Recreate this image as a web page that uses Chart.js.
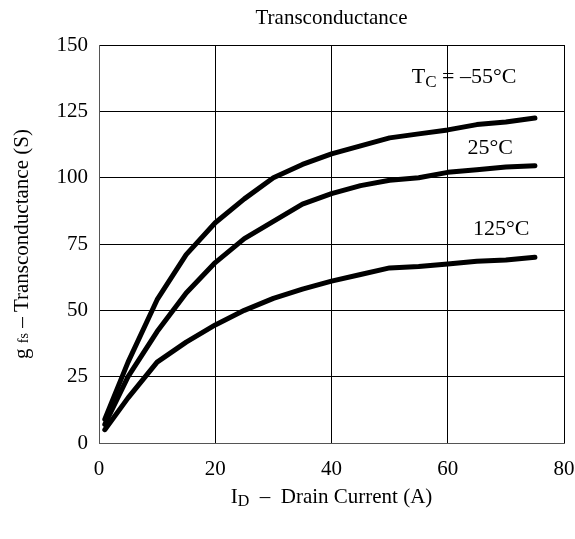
<!DOCTYPE html>
<html>
<head>
<meta charset="utf-8">
<script src="https://cdn.jsdelivr.net/npm/chart.js@4.4.1/dist/chart.umd.min.js"></script>
<style>
  html, body { margin: 0; padding: 0; background: #fff; }
  #wrap { width: 575px; height: 539px; }
</style>
</head>
<body>
<div id="wrap"><canvas id="gfsChart"></canvas></div>
<script>
// drain current (A)
var current = [1, 5, 10, 15, 20, 25, 30, 35, 40, 45, 50, 55, 60, 65, 70, 75];
// transconductance (S) per case temperature
var gfsMinus55 = [9, 30.5, 54, 71, 83, 92, 100, 105, 109, 112, 115, 116.5, 118, 120, 121, 122.5];
var gfs25 = [7, 25, 42, 56.5, 68, 77, 83.5, 90, 94, 97, 99, 100, 102, 103, 104, 104.5];
var gfs125 = [5, 17, 30.5, 38, 44.5, 50, 54.5, 58, 61, 63.5, 66, 66.5, 67.5, 68.5, 69, 70];
var xTicks = [0, 20, 40, 60, 80];
var yTicks = [0, 25, 50, 75, 100, 125, 150];
// curve labels: [main, subscript, rest, x, y] in data units
var curveLabels = [
  ['T', 'C', ' = \u201355\u00b0C', 62.8, 138],
  ['25\u00b0C', '', '', 67.3, 111],
  ['125\u00b0C', '', '', 69.2, 80.6]
];

var FONT = '"Liberation Serif", "Times New Roman", serif';

function pts(ys) {
  return current.map(function (x, i) { return { x: x, y: ys[i] }; });
}

// draw "main" + subscript + "rest" starting at x (left aligned, baseline middle)
function subText(ctx, main, sub, rest, x, y, size) {
  ctx.font = size + 'px ' + FONT;
  ctx.fillText(main, x, y);
  x += ctx.measureText(main).width;
  if (sub) {
    ctx.font = Math.round(size * 0.78) + 'px ' + FONT;
    ctx.fillText(sub, x, y + size * 0.25);
    x += ctx.measureText(sub).width;
  }
  if (rest) {
    ctx.font = size + 'px ' + FONT;
    ctx.fillText(rest, x, y);
  }
}

function subWidth(ctx, main, sub, rest, size) {
  ctx.font = size + 'px ' + FONT;
  var w = ctx.measureText(main).width + (rest ? ctx.measureText(rest).width : 0);
  if (sub) {
    ctx.font = Math.round(size * 0.78) + 'px ' + FONT;
    w += ctx.measureText(sub).width;
  }
  return w;
}

var textPlugin = {
  id: 'textPlugin',
  afterDraw: function (chart) {
    var ctx = chart.ctx;
    var area = chart.chartArea;
    var xs = chart.scales.x, ys = chart.scales.y;
    var cx = (area.left + area.right) / 2;
    ctx.save();
    ctx.fillStyle = '#000';
    ctx.textBaseline = 'middle';
    ctx.textAlign = 'left';

    // title
    ctx.font = '21px ' + FONT;
    ctx.textAlign = 'center';
    ctx.fillText('Transconductance', cx, 18);
    ctx.textAlign = 'left';

    // x axis title
    var w = subWidth(ctx, 'I', 'D', '  \u2013  Drain Current (A)', 21);
    subText(ctx, 'I', 'D', '  \u2013  Drain Current (A)', cx - w / 2, 497, 21);

    // y axis title (rotated)
    ctx.save();
    ctx.translate(22, (area.top + area.bottom) / 2);
    ctx.rotate(-Math.PI / 2);
    var sz = 21;
    var a = 'g ', b = 'fs', c = ' \u2013 Transconductance (S)';
    ctx.font = sz + 'px ' + FONT;
    var wa = ctx.measureText(a).width, wc = ctx.measureText(c).width;
    ctx.font = '14px ' + FONT;
    var wb = ctx.measureText(b).width;
    var x0 = -(wa + wb + wc) / 2;
    ctx.font = sz + 'px ' + FONT;
    ctx.fillText(a, x0, 0);
    ctx.font = '14px ' + FONT;
    ctx.fillText(b, x0 + wa, 2);
    ctx.font = sz + 'px ' + FONT;
    ctx.fillText(c, x0 + wa + wb, 0);
    ctx.restore();

    // curve labels
    curveLabels.forEach(function (l) {
      var lw = subWidth(ctx, l[0], l[1], l[2], 22);
      subText(ctx, l[0], l[1], l[2], xs.getPixelForValue(l[3]) - lw / 2, ys.getPixelForValue(l[4]), 22);
    });
    ctx.restore();
  }
};

var seriesStyle = {
  borderColor: '#000',
  borderWidth: 5,
  pointRadius: 0,
  tension: 0,
  fill: false,
  borderCapStyle: 'round',
  borderJoinStyle: 'round'
};

new Chart(document.getElementById('gfsChart'), {
  type: 'line',
  data: {
    datasets: [
      Object.assign({ label: '-55', data: pts(gfsMinus55) }, seriesStyle),
      Object.assign({ label: '25', data: pts(gfs25) }, seriesStyle),
      Object.assign({ label: '125', data: pts(gfs125) }, seriesStyle)
    ]
  },
  options: {
    responsive: true,
    maintainAspectRatio: false,
    animation: false,
    layout: { padding: { top: 45, right: 11, bottom: 0, left: 0 } },
    plugins: { legend: { display: false }, tooltip: { enabled: false } },
    scales: {
      x: {
        type: 'linear',
        min: 0, max: 80,
        afterBuildTicks: function (s) { s.ticks = xTicks.map(function (v) { return { value: v }; }); },
        afterFit: function (s) { s.height = 96; s.paddingLeft = 0; s.paddingRight = 0; },
        grid: { color: '#000', lineWidth: 1, drawTicks: false },
        border: { color: '#555', width: 1 },
        ticks: { color: '#000', padding: 14, maxRotation: 0, font: { family: FONT, size: 21 } }
      },
      y: {
        type: 'linear',
        min: 0, max: 150,
        afterBuildTicks: function (s) { s.ticks = yTicks.map(function (v) { return { value: v }; }); },
        afterFit: function (s) { s.width = 99; s.paddingTop = 0; s.paddingBottom = 0; },
        grid: { color: '#000', lineWidth: 1, drawTicks: false },
        border: { color: '#555', width: 1 },
        ticks: { color: '#000', padding: 11, font: { family: FONT, size: 21 } }
      }
    }
  },
  plugins: [textPlugin]
});
</script>
</body>
</html>
